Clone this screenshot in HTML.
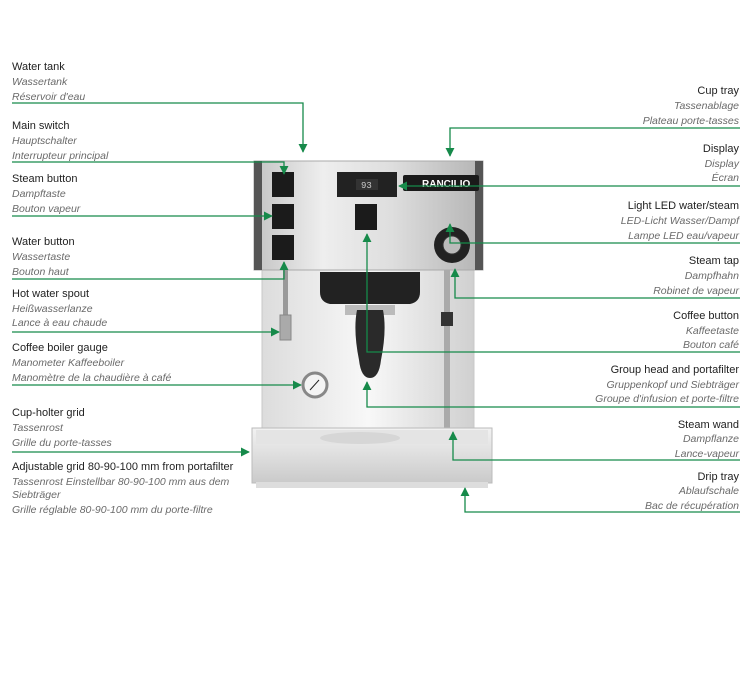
<!DOCTYPE html>
<html><head><meta charset="utf-8"><style>
body{margin:0;background:#fff;}
svg{display:block}
.t{font-family:"Liberation Sans",sans-serif;font-size:11px;fill:#222}
.s{font-family:"Liberation Sans",sans-serif;font-size:10.5px;font-style:italic;fill:#6a6a6a}
</style></head><body>
<svg width="751" height="675" viewBox="0 0 751 675" xmlns="http://www.w3.org/2000/svg">
<defs>
<linearGradient id="steel" x1="0" x2="1" y1="0" y2="0">
<stop offset="0" stop-color="#c4c4c4"/><stop offset="0.3" stop-color="#eeeeee"/><stop offset="0.6" stop-color="#dedede"/><stop offset="1" stop-color="#b4b4b4"/></linearGradient>
<linearGradient id="steel2" x1="0" x2="1" y1="0" y2="0">
<stop offset="0" stop-color="#dcdcdc"/><stop offset="0.5" stop-color="#f8f8f8"/><stop offset="1" stop-color="#d0d0d0"/></linearGradient>
<linearGradient id="tray" x1="0" x2="0" y1="0" y2="1">
<stop offset="0" stop-color="#f2f2f2"/><stop offset="1" stop-color="#cacaca"/></linearGradient>
<marker id="a" viewBox="0 0 10 10" refX="9" refY="5" markerWidth="7" markerHeight="7" orient="auto"><path d="M0,0L10,5L0,10z" fill="#168a4a"/></marker>
</defs>

<!-- machine -->
<rect x="262" y="268" width="212" height="165" fill="url(#steel2)" stroke="#c8c8c8"/>
<rect x="254" y="161" width="229" height="109" fill="url(#steel)" stroke="#aaa"/>
<rect x="254" y="161" width="8" height="109" fill="#555"/>
<rect x="475" y="161" width="8" height="109" fill="#555"/>
<rect x="272" y="172" width="22" height="25" fill="#1b1b1b"/>
<rect x="272" y="204" width="22" height="25" fill="#1b1b1b"/>
<rect x="272" y="235" width="22" height="25" fill="#1b1b1b"/>
<rect x="337" y="172" width="60" height="25" fill="#222"/>
<rect x="356" y="179" width="22" height="11" fill="#333"/>
<text x="361" y="188" font-family="Liberation Mono" font-size="9" fill="#ccc">93</text>
<rect x="403" y="175" width="76" height="16" rx="2" fill="#1a1a1a"/>
<text x="422" y="187" font-family="Liberation Sans" font-weight="bold" font-size="10" fill="#fff">RANCILIO</text>
<rect x="355" y="204" width="22" height="26" fill="#1b1b1b"/>
<circle cx="452" cy="245" r="18" fill="#222"/>
<circle cx="452" cy="245" r="9" fill="#bbb" stroke="#333"/>
<!-- group -->
<path d="M320 272h100v20q0 10-10 12h-80q-10-2-10-12z" fill="#222"/>
<rect x="345" y="305" width="50" height="10" fill="#bbb"/>
<path d="M357 310h26q4 20-2 50q-2 18-11 18q-9 0-11-18q-6-30-2-50z" fill="#2a2a2a"/>
<!-- spout -->
<rect x="283" y="270" width="5" height="48" fill="#999"/>
<rect x="280" y="315" width="11" height="25" fill="#aaa" stroke="#888"/>
<!-- steam wand -->
<rect x="444" y="270" width="6" height="170" fill="#aaa"/>
<rect x="441" y="312" width="12" height="14" fill="#333"/>
<!-- gauge -->
<circle cx="315" cy="385" r="12" fill="#f4f4f4" stroke="#888" stroke-width="3"/>
<line x1="310" y1="390" x2="319" y2="380" stroke="#222"/>
<!-- tray -->
<rect x="252" y="428" width="240" height="55" fill="url(#tray)" stroke="#bbb"/>
<rect x="256" y="430" width="232" height="14" fill="#e4e4e4"/>
<ellipse cx="360" cy="438" rx="40" ry="6" fill="#d6d6d6"/>
<rect x="256" y="482" width="232" height="6" fill="#ddd"/>

<!-- connectors -->
<g stroke="#168a4a" stroke-width="1.3" fill="none">
<polyline points="12,103 303,103 303,152" marker-end="url(#a)"/>
<polyline points="12,162 284,162 284,174" marker-end="url(#a)"/>
<polyline points="12,216 272,216" marker-end="url(#a)"/>
<polyline points="12,279 284,279 284,262" marker-end="url(#a)"/>
<polyline points="12,332 279,332" marker-end="url(#a)"/>
<polyline points="12,385 301,385" marker-end="url(#a)"/>
<polyline points="12,452 249,452" marker-end="url(#a)"/>
<polyline points="740,128 450,128 450,156" marker-end="url(#a)"/>
<polyline points="740,186 399,186" marker-end="url(#a)"/>
<polyline points="740,243 450,243 450,224" marker-end="url(#a)"/>
<polyline points="740,298 455,298 455,269" marker-end="url(#a)"/>
<polyline points="740,352 367,352 367,234" marker-end="url(#a)"/>
<polyline points="740,407 367,407 367,382" marker-end="url(#a)"/>
<polyline points="740,460 453,460 453,432" marker-end="url(#a)"/>
<polyline points="740,512 465,512 465,488" marker-end="url(#a)"/>
</g>

<!-- left labels -->
<text class="t" x="12" y="70">Water tank</text>
<text class="s" x="12" y="85">Wassertank</text>
<text class="s" x="12" y="100">Réservoir d'eau</text>
<text class="t" x="12" y="129">Main switch</text>
<text class="s" x="12" y="144">Hauptschalter</text>
<text class="s" x="12" y="159">Interrupteur principal</text>
<text class="t" x="12" y="182">Steam button</text>
<text class="s" x="12" y="197">Dampftaste</text>
<text class="s" x="12" y="212">Bouton vapeur</text>
<text class="t" x="12" y="245">Water button</text>
<text class="s" x="12" y="260">Wassertaste</text>
<text class="s" x="12" y="275">Bouton haut</text>
<text class="t" x="12" y="297">Hot water spout</text>
<text class="s" x="12" y="312">Heißwasserlanze</text>
<text class="s" x="12" y="326">Lance à eau chaude</text>
<text class="t" x="12" y="351">Coffee boiler gauge</text>
<text class="s" x="12" y="366">Manometer Kaffeeboiler</text>
<text class="s" x="12" y="381">Manomètre de la chaudière à café</text>
<text class="t" x="12" y="416">Cup-holter grid</text>
<text class="s" x="12" y="431">Tassenrost</text>
<text class="s" x="12" y="446">Grille du porte-tasses</text>
<text class="t" x="12" y="470">Adjustable grid 80-90-100 mm from portafilter</text>
<text class="s" x="12" y="485">Tassenrost Einstellbar 80-90-100 mm aus dem</text>
<text class="s" x="12" y="498">Siebträger</text>
<text class="s" x="12" y="513">Grille réglable 80-90-100 mm du porte-filtre</text>

<!-- right labels -->
<g text-anchor="end">
<text class="t" x="739" y="94">Cup tray</text>
<text class="s" x="739" y="109">Tassenablage</text>
<text class="s" x="739" y="124">Plateau porte-tasses</text>
<text class="t" x="739" y="152">Display</text>
<text class="s" x="739" y="167">Display</text>
<text class="s" x="739" y="181">Écran</text>
<text class="t" x="739" y="209">Light LED water/steam</text>
<text class="s" x="739" y="224">LED-Licht Wasser/Dampf</text>
<text class="s" x="739" y="239">Lampe LED eau/vapeur</text>
<text class="t" x="739" y="264">Steam tap</text>
<text class="s" x="739" y="279">Dampfhahn</text>
<text class="s" x="739" y="294">Robinet de vapeur</text>
<text class="t" x="739" y="319">Coffee button</text>
<text class="s" x="739" y="334">Kaffeetaste</text>
<text class="s" x="739" y="348">Bouton café</text>
<text class="t" x="739" y="373">Group head and portafilter</text>
<text class="s" x="739" y="388">Gruppenkopf und Siebträger</text>
<text class="s" x="739" y="402">Groupe d'infusion et porte-filtre</text>
<text class="t" x="739" y="428">Steam wand</text>
<text class="s" x="739" y="442">Dampflanze</text>
<text class="s" x="739" y="457">Lance-vapeur</text>
<text class="t" x="739" y="480">Drip tray</text>
<text class="s" x="739" y="494">Ablaufschale</text>
<text class="s" x="739" y="509">Bac de récupération</text>
</g>
</svg>
</body></html>
